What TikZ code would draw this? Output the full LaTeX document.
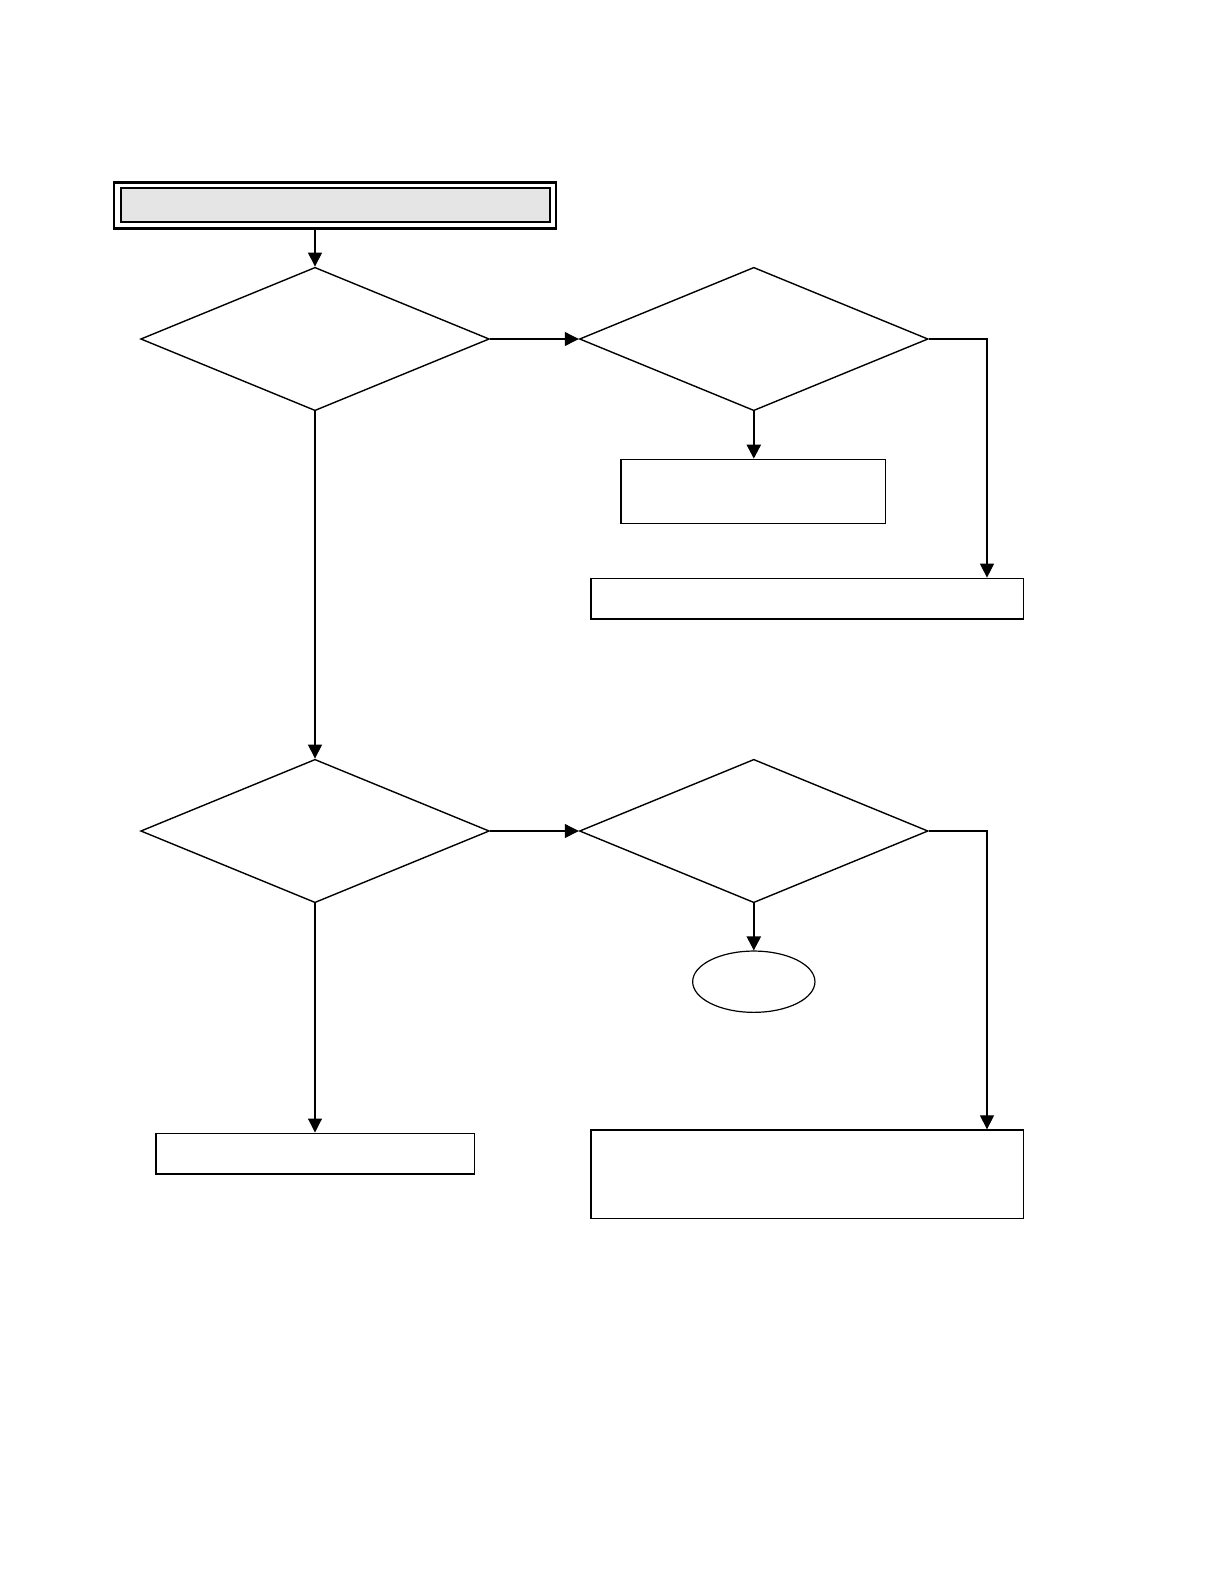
\documentclass[tikz,border=0pt]{standalone}
\usetikzlibrary{shapes.geometric,arrows.meta}
\begin{document}
\begin{tikzpicture}[x=1pt,y=-1pt,
  dec/.style={shape=diamond,draw,line width=1.4pt,inner sep=0pt,minimum width=348.6pt,minimum height=143.4pt},
  boxn/.style={shape=rectangle,draw,line width=1.3pt,inner sep=0pt},
  arr/.style={line width=1.1pt,-{Triangle[length=14pt,width=14pt]}},
  arrb/.style={line width=2.4pt,-{Triangle[length=14pt,width=14pt]}}]
\useasboundingbox (0,0) rectangle (1220,1588);
% title box (double frame)
\node[boxn,line width=2.6pt,minimum width=442pt,minimum height=46pt] (topo) at (335,205.3) {};
\node[boxn,line width=2pt,fill=black!10,minimum width=429.3pt,minimum height=34pt] (topi) at (335.35,205.3) {};
% decisions
\node[dec] (d1) at (315,339) {};
\node[dec] (d2) at (753.8,339) {};
\node[dec] (d3) at (315,831) {};
\node[dec] (d4) at (753.8,831) {};
% boxes
\node[boxn,minimum width=264.7pt,minimum height=64pt] (ba) at (753.35,491.3) {};
\node[boxn,minimum width=432.5pt,minimum height=40.7pt] (bb) at (807.25,598.65) {};
\node[boxn,line width=1.6pt,minimum width=318.6pt,minimum height=40.7pt] (bc) at (315,1153.65) {};
\node[boxn,minimum width=432.7pt,minimum height=88.3pt] (bd) at (807.35,1174.15) {};
\node[shape=ellipse,draw,line width=1.2pt,inner sep=0pt,minimum width=122.3pt,minimum height=61.3pt] (el) at (753.8,981.7) {};
\coordinate (rc) at (987,0);
% connectors
\draw[arr] (topo.south -| d1.north) -- (d1.north);
\draw[arr] (d1.east) -- (d2.west);
\draw[arrb] (d2.south) -- (ba.north -| d2.south);
\draw[arr] (d2.east) -| (bb.north -| rc);
\draw[arr] (d1.south) -- (d3.north);
\draw[arr] (d3.east) -- (d4.west);
\draw[arrb] (d4.south) -- (el.north);
\draw[arr] (d4.east) -| (bd.north -| rc);
\draw[arr] (d3.south) -- (bc.north);
\end{tikzpicture}
\end{document}
